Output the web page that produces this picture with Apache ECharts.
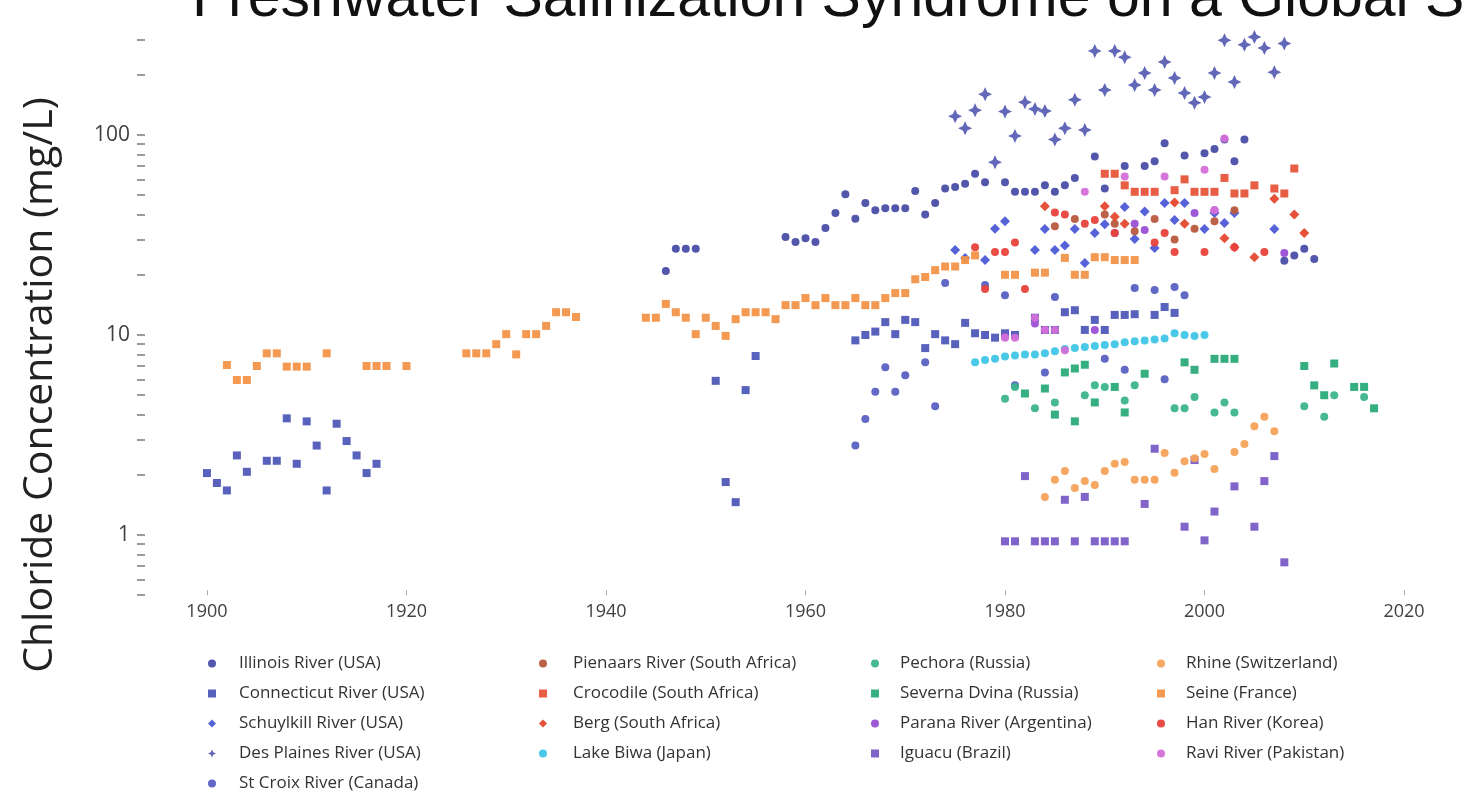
<!DOCTYPE html>
<html>
<head>
<meta charset="utf-8">
<script src="https://cdn.jsdelivr.net/npm/echarts@6/dist/echarts.min.js"></script>
<style>
html,body{margin:0;padding:0;background:#fff;}
#chart{width:1465px;height:796px;}
</style>
</head>
<body>
<div id="chart"></div>
<script>
// ---------- DATA (year, chloride mg/L) ----------
const xTickLabels = [1900, 1920, 1940, 1960, 1980, 2000, 2020];
const yTickLabels = [1, 10, 100];
const yMinorTicks = [0.5,0.6,0.7,0.8,0.9,1,2,3,4,5,6,7,8,9,10,20,30,40,50,60,70,80,90,100,200,300];

const illinois = [[1946,20.9],[1947,27],[1948,27],[1949,27],[1958,30.9],[1959,29.2],[1960,30.5],[1961,29.2],[1962,34.3],[1963,40.7],[1964,50.6],[1965,38.1],[1966,45.7],[1967,42],[1968,43],[1969,43],[1970,43],[1971,52.5],[1972,40],[1973,45.7],[1974,54],[1975,55],[1976,57],[1977,64],[1978,58],[1980,58],[1981,52],[1982,52],[1983,52],[1984,56],[1985,52],[1986,56],[1987,61],[1989,78],[1990,54],[1992,70],[1994,70],[1995,74],[1996,91],[1998,79],[2000,81],[2001,85],[2002,95],[2003,74],[2004,95],[2008,23.5],[2009,25],[2010,27],[2011,24]];
const connecticut = [[1900,2.04],[1901,1.82],[1902,1.67],[1903,2.5],[1904,2.07],[1906,2.35],[1907,2.35],[1908,3.83],[1909,2.27],[1910,3.7],[1911,2.8],[1912,1.67],[1913,3.6],[1914,2.95],[1915,2.5],[1916,2.04],[1917,2.27],[1951,5.9],[1952,1.84],[1953,1.46],[1954,5.3],[1955,7.85],[1965,9.4],[1966,10],[1967,10.4],[1968,11.6],[1969,10.1],[1970,11.9],[1971,11.6],[1972,8.6],[1973,10.1],[1974,9.4],[1975,9.0],[1976,11.5],[1977,10.2],[1978,10],[1979,9.7],[1980,10.2],[1981,10],[1983,12.2],[1984,10.6],[1985,10.6],[1986,13.0],[1987,13.3],[1988,10.6],[1989,11.9],[1990,10.6],[1991,12.6],[1992,12.6],[1993,12.7],[1995,12.6],[1996,13.8],[1997,12.9]];
const schuylkill = [[1975,26.6],[1976,24.3],[1978,23.7],[1979,34],[1980,37],[1983,26.6],[1984,33.9],[1985,26.6],[1986,28],[1987,33.9],[1988,22.9],[1989,32.4],[1990,35.8],[1992,43.6],[1993,30.2],[1994,41.5],[1995,27.2],[1996,45.7],[1997,37.6],[1998,45.7],[2000,33.9],[2001,40.7],[2002,36.3],[2003,40.7],[2007,33.9]];
const desPlaines = [[1975,124],[1976,108],[1977,133],[1978,160],[1979,73],[1980,131],[1981,99],[1982,146],[1983,135],[1984,132],[1985,95],[1986,108],[1987,150],[1988,106],[1989,263],[1990,168],[1991,263],[1992,245],[1993,178],[1994,204],[1995,168],[1996,232],[1997,193],[1998,162],[1999,145],[2000,155],[2001,204],[2002,298],[2003,184],[2004,283],[2005,309],[2006,272],[2007,206],[2008,287]];
const stCroix = [[1965,2.8],[1966,3.8],[1967,5.2],[1968,6.9],[1969,5.2],[1970,6.3],[1972,7.3],[1973,4.4],[1974,18.2],[1978,17.8],[1980,15.8],[1981,5.6],[1984,6.5],[1985,15.5],[1990,7.6],[1992,6.7],[1993,17.2],[1995,16.8],[1996,6.0],[1997,17.4],[1998,15.8]];
const pienaars = [[1985,35],[1987,38],[1990,40],[1991,36],[1993,33],[1995,38],[1997,30],[1999,34],[2001,37],[2003,42]];
const crocodile = [[1990,64],[1991,64],[1992,56],[1993,52],[1994,52],[1995,52],[1997,53],[1998,60],[1999,52],[2000,52],[2001,52],[2002,61],[2003,51],[2004,51],[2005,56],[2007,54],[2008,51],[2009,68]];
const berg = [[1984,44],[1990,44],[1991,39],[1992,36],[1997,46],[1998,36],[2002,30.5],[2003,27.5],[2005,24.5],[2007,48],[2009,40],[2010,32.4]];
const lakeBiwa = [[1977,7.3],[1978,7.5],[1979,7.6],[1980,7.8],[1981,7.9],[1982,8.0],[1983,8.0],[1984,8.1],[1985,8.3],[1986,8.5],[1987,8.6],[1988,8.7],[1989,8.8],[1990,8.9],[1991,9.0],[1992,9.2],[1993,9.3],[1994,9.4],[1995,9.5],[1996,9.6],[1997,10.2],[1998,10.0],[1999,9.9],[2000,10.0]];
const pechora = [[1980,4.8],[1981,5.5],[1983,4.3],[1985,4.6],[1988,5.0],[1989,5.6],[1990,5.5],[1992,4.7],[1993,5.6],[1997,4.3],[1998,4.3],[1999,4.9],[2001,4.1],[2002,4.6],[2003,4.1],[2010,4.4],[2012,3.9],[2013,5.0],[2016,4.9]];
const severnaDvina = [[1982,5.1],[1984,5.4],[1985,4.0],[1986,6.5],[1987,6.8],[1987,3.7],[1988,7.1],[1989,4.6],[1991,5.5],[1992,4.1],[1994,6.4],[1998,7.3],[1999,6.7],[2001,7.6],[2002,7.6],[2003,7.6],[2010,7.0],[2011,5.6],[2012,5.0],[2013,7.2],[2015,5.5],[2016,5.5],[2017,4.3]];
const parana = [[1980,9.8],[1983,11.4],[1984,10.6],[1989,10.6],[1991,32.4],[1993,36],[1994,33.5],[1999,40.7],[2001,42],[2008,25.7]];
const iguacu = [[1980,0.93],[1981,0.93],[1982,1.97],[1983,0.93],[1984,0.93],[1985,0.93],[1986,1.5],[1987,0.93],[1988,1.55],[1989,0.93],[1990,0.93],[1991,0.93],[1992,0.93],[1994,1.43],[1995,2.7],[1998,1.1],[1999,2.37],[2000,0.94],[2001,1.31],[2003,1.75],[2005,1.1],[2006,1.86],[2007,2.48],[2008,0.73]];
const rhine = [[1984,1.55],[1985,1.89],[1986,2.09],[1987,1.72],[1988,1.86],[1989,1.78],[1990,2.09],[1991,2.27],[1992,2.32],[1993,1.89],[1994,1.89],[1995,1.89],[1996,2.57],[1997,2.05],[1998,2.34],[1999,2.42],[2000,2.54],[2001,2.14],[2003,2.6],[2004,2.85],[2005,3.5],[2006,3.9],[2007,3.3]];
const seine = [[1902,7.08],[1903,5.96],[1904,5.96],[1905,7.0],[1906,8.1],[1907,8.1],[1908,6.95],[1909,6.95],[1910,6.95],[1912,8.1],[1916,7.0],[1917,7.0],[1918,7.0],[1920,7.0],[1926,8.1],[1927,8.1],[1928,8.1],[1929,9.0],[1930,10.1],[1931,8.0],[1932,10.1],[1933,10.1],[1934,11.1],[1935,13.0],[1936,13.0],[1937,12.3],[1944,12.2],[1945,12.2],[1946,14.3],[1947,13.0],[1948,12.2],[1949,10.1],[1950,12.2],[1951,11.1],[1952,9.9],[1953,12.0],[1954,13],[1955,13],[1956,13],[1957,12],[1958,14.1],[1959,14.1],[1960,15.3],[1961,14.1],[1962,15.3],[1963,14.1],[1964,14.1],[1965,15.3],[1966,14.1],[1967,14.1],[1968,15.3],[1969,16.2],[1970,16.2],[1971,19],[1972,19.5],[1973,21.1],[1974,22],[1975,22],[1976,23.7],[1977,25],[1980,20],[1981,20],[1983,20.5],[1984,20.5],[1986,24.3],[1987,20],[1988,20],[1989,24.5],[1990,24.5],[1991,23.7],[1992,23.7],[1993,23.7]];
const han = [[1977,27.5],[1978,17],[1979,26],[1980,26],[1981,29],[1982,17],[1985,41],[1986,40],[1988,36],[1989,37.6],[1991,32.4],[1995,29],[1996,32.4],[1997,26],[2000,26],[2003,27.5],[2006,26]];
const ravi = [[1980,9.7],[1981,9.7],[1983,12.2],[1984,10.6],[1985,10.6],[1986,8.4],[1988,52],[1992,62],[1996,62],[2000,67],[2001,42],[2002,96]];

const seriesNames = ['Illinois River (USA)','Connecticut River (USA)','Schuylkill River (USA)','Des Plaines River (USA)','St Croix River (Canada)',
  'Pienaars River (South Africa)','Crocodile (South Africa)','Berg (South Africa)','Lake Biwa (Japan)',
  'Pechora (Russia)','Severna Dvina (Russia)','Parana River (Argentina)','Iguacu (Brazil)',
  'Rhine (Switzerland)','Seine (France)','Han River (Korea)','Ravi River (Pakistan)'];
const seriesData = [illinois, connecticut, schuylkill, desPlaines, stCroix, pienaars, crocodile, berg, lakeBiwa,
  pechora, severnaDvina, parana, iguacu, rhine, seine, han, ravi];

// ---------- STYLE ----------
const STAR = 'path://M0,-10 L3.2,-3.2 L10,0 L3.2,3.2 L0,10 L-3.2,3.2 L-10,0 L-3.2,-3.2 Z';
const styles = [
  {symbol:'circle', size:8, color:'#4a4ea6'},
  {symbol:'rect', size:8, color:'#4f58b8'},
  {symbol:'diamond', size:10, color:'#4d5bd6'},
  {symbol:STAR, size:14, color:'#5a5fb4'},
  {symbol:'circle', size:8, color:'#5860c2'},
  {symbol:'circle', size:8, color:'#b85a3e'},
  {symbol:'rect', size:8, color:'#e6553a'},
  {symbol:'diamond', size:10, color:'#e4482e'},
  {symbol:'circle', size:8, color:'#3fc6e6'},
  {symbol:'circle', size:8, color:'#3db58c'},
  {symbol:'rect', size:8, color:'#2aab78'},
  {symbol:'circle', size:8, color:'#9a50d4'},
  {symbol:'rect', size:8, color:'#7a5cc6'},
  {symbol:'circle', size:8, color:'#f5a25a'},
  {symbol:'rect', size:8, color:'#f29449'},
  {symbol:'circle', size:8, color:'#e8423a'},
  {symbol:'circle', size:8, color:'#d46fd8'}
];

const chart = echarts.init(document.getElementById('chart'), null, {renderer:'canvas'});

const series = seriesNames.map((name, i) => ({
  name: name,
  type: 'scatter',
  data: seriesData[i],
  symbol: styles[i].symbol,
  symbolSize: styles[i].size,
  itemStyle: {color: styles[i].color, opacity: 0.95},
  emphasis: {disabled: true}
}));

function legendCol(names, left, pad) {
  return {
    data: names.map(n => ({name: n, icon: styles[seriesNames.indexOf(n)].symbol})),
    orient: 'vertical', left: left, top: 649, height: 180,
    itemWidth: 8, itemHeight: 8, itemGap: 11,
    selectedMode: false,
    textStyle: {fontFamily: 'Open Sans', fontSize: 17, color: '#333333', lineHeight: 19, padding: [0,0,0,pad]}
  };
}

const option = {
  animation: false,
  backgroundColor: '#ffffff',
  grid: {left: 145, right: 7.5, top: 14.6, bottom: 200.8, containLabel: false},
  xAxis: {
    type: 'value', min: 1893.79, max: 2025.36,
    axisLine: {show: false},
    splitLine: {show: false},
    axisTick: {show: true, inside: true, length: 5, lineStyle: {color: '#aaaaaa', width: 1}, customValues: xTickLabels},
    axisLabel: {fontFamily: 'Open Sans', fontSize: 18, color: '#404040', margin: 8, customValues: xTickLabels, formatter: v => String(v)}
  },
  yAxis: {
    type: 'log', logBase: 10, min: 0.5, max: 400,
    axisLine: {show: false},
    splitLine: {show: false},
    minorTick: {show: false},
    axisTick: {show: true, length: 8, lineStyle: {color: '#9a9a9a', width: 2}, customValues: yMinorTicks},
    axisLabel: {fontFamily: 'Open Sans', fontSize: 21, color: '#404040', margin: 15, customValues: yTickLabels}
  },
  legend: [
    legendCol(seriesNames.slice(0,5), 203, 18),
    legendCol(seriesNames.slice(5,9), 534, 21),
    legendCol(seriesNames.slice(9,13), 866, 16),
    legendCol(seriesNames.slice(13,17), 1152, 16)
  ],
  graphic: [
    {type: 'text', left: 192, top: -30, style: {text: 'Freshwater Salinization Syndrome on a Global Scale', font: '59px "Liberation Sans"', fill: '#111'}},
    {type: 'text', x: 40, y: 385, rotation: Math.PI/2, style: {text: 'Chloride Concentration (mg/L)', font: '41px "Open Sans"', fill: '#222', align: 'center', verticalAlign: 'middle'}}
  ],
  series: series
};
chart.setOption(option);
</script>
</body>
</html>
